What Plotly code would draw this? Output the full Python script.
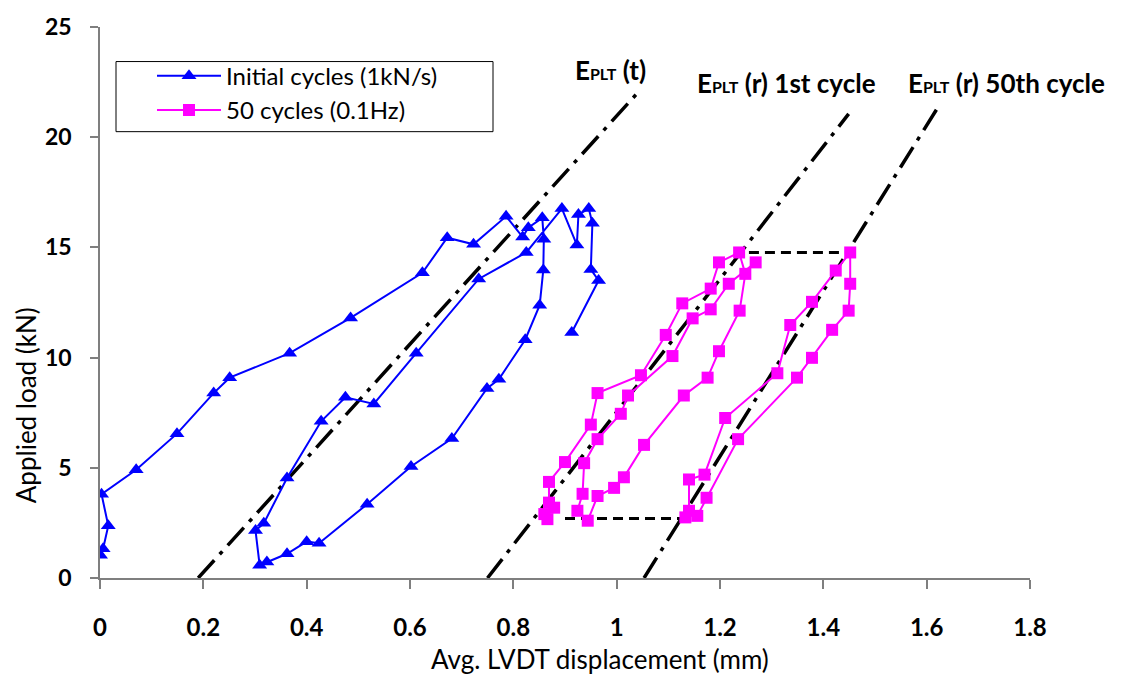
import plotly.graph_objects as go

# Initial cycles (1kN/s): displacement (mm) and load (kN)
initial_disp = [0.001, 0.006, 0.016, 0.003, 0.070, 0.149, 0.220, 0.251, 0.367, 0.485,
                0.624, 0.672, 0.723, 0.786, 0.818, 0.829, 0.856, 0.859, 0.858, 0.851,
                0.823, 0.772, 0.749, 0.681, 0.602, 0.517, 0.424, 0.400, 0.362, 0.323,
                0.309, 0.301, 0.317, 0.362, 0.428, 0.475, 0.530, 0.612, 0.733, 0.825,
                0.894, 0.923, 0.926, 0.946, 0.953, 0.950, 0.965, 0.913]
initial_load = [1.03, 1.33, 2.37, 3.80, 4.91, 6.55, 8.39, 9.09, 10.20, 11.80,
                13.85, 15.44, 15.14, 16.41, 15.47, 15.89, 16.34, 15.37, 13.98, 12.38,
                10.81, 9.02, 8.60, 6.33, 5.06, 3.35, 1.58, 1.65, 1.10, 0.73,
                0.58, 2.15, 2.48, 4.54, 7.11, 8.20, 7.90, 10.20, 13.57, 14.77,
                16.76, 15.11, 16.49, 16.76, 16.10, 14.00, 13.50, 11.14]

# 50 cycles (0.1Hz): first loop, then last loop (None separates them)
cyc_disp = [0.866, 0.860, 0.879, 0.869, 0.869, 0.900, 0.950, 0.963, 1.047, 1.095,
            1.127, 1.182, 1.198, 1.237, 1.249, 1.238, 1.198, 1.176, 1.130, 1.053,
            1.014, 0.995, 0.963, 0.944, 0.924, 0.934, 0.937, 0.963, 1.008, 1.022,
            1.108, 1.147, 1.182, 1.217, 1.269,
            None,
            1.133, 1.140, 1.140, 1.170, 1.210, 1.311, 1.336, 1.378, 1.424, 1.452,
            1.452, 1.449, 1.417, 1.378, 1.349, 1.235, 1.174, 1.156]
cyc_load = [2.67, 2.90, 3.19, 3.42, 4.36, 5.26, 6.96, 8.39, 9.20, 11.03,
            12.46, 13.13, 14.32, 14.77, 13.80, 12.13, 10.29, 9.09, 8.28, 6.04,
            4.57, 4.09, 3.72, 2.60, 3.05, 3.82, 5.21, 6.30, 7.45, 8.28,
            10.07, 11.78, 12.19, 13.35, 14.32,
            None,
            2.75, 3.05, 4.47, 4.69, 7.26, 9.29, 11.48, 12.53, 13.95, 14.77,
            13.35, 12.13, 11.26, 9.99, 9.09, 6.30, 3.64, 2.82]

# Modulus lines (start/end points)
e_t_x, e_t_y = [0.19, 1.04], [0.0, 22.0]
e_r1_x, e_r1_y = [0.75, 1.449], [0.0, 21.06]
e_r50_x, e_r50_y = [1.053, 1.623], [0.0, 21.4]

# Horizontal guides at the cycle peak / trough loads
peak_x, peak_y = [1.256, 1.452], [14.77, 14.77]
trough_x, trough_y = [0.90, 1.13], [2.70, 2.70]

labels = ["E<span style='font-size:16px'>PLT</span> (t)",
          "E<span style='font-size:16px'>PLT</span> (r) 1st cycle",
          "E<span style='font-size:16px'>PLT</span> (r) 50th cycle"]
label_x = [610, 786, 1006]
label_y = [64, 77, 77]

x_ticks = [0, 0.2, 0.4, 0.6, 0.8, 1.0, 1.2, 1.4, 1.6, 1.8]
x_tick_text = ["0", "0.2", "0.4", "0.6", "0.8", "1", "1.2", "1.4", "1.6", "1.8"]
y_ticks = [0, 5, 10, 15, 20, 25]

FONT = "Lato"
W, H = 1123, 677
L, R, T, B = 100, 93, 20, 99
PW, PH = W - L - R, H - T - B

fig = go.Figure()

dashdot = "24px,8px,4px,8px"
for xs, ys in [(e_t_x, e_t_y), (e_r1_x, e_r1_y), (e_r50_x, e_r50_y)]:
    fig.add_trace(go.Scatter(x=xs, y=ys, mode="lines", showlegend=False,
                             line=dict(color="black", width=3.5, dash=dashdot),
                             hoverinfo="skip"))
for xs, ys in [(peak_x, peak_y), (trough_x, trough_y)]:
    fig.add_trace(go.Scatter(x=xs, y=ys, mode="lines", showlegend=False,
                             line=dict(color="black", width=3, dash="10px,6px"),
                             hoverinfo="skip"))

fig.add_trace(go.Scatter(
    x=initial_disp, y=initial_load, mode="lines+markers",
    name="Initial cycles (1kN/s)",
    line=dict(color="#0000FF", width=2),
    marker=dict(symbol="triangle-up", size=13, color="#0000FF"),
))
fig.add_trace(go.Scatter(
    x=cyc_disp, y=cyc_load, mode="lines+markers",
    name="50 cycles (0.1Hz)", connectgaps=False,
    line=dict(color="#FF00FF", width=2),
    marker=dict(symbol="square", size=12, color="#FF00FF"),
))


def px(xp):
    return (xp - L) / PW


def py(yp):
    return 1 - (yp - T) / PH


for txt, xp, yp in zip(labels, label_x, label_y):
    fig.add_annotation(x=px(xp), y=py(yp), xref="paper", yref="paper",
                       text="<b>" + txt + "</b>", showarrow=False,
                       font=dict(family=FONT, size=26, color="black"),
                       xanchor="center", yanchor="middle")

# axis titles
fig.add_annotation(x=px(600), y=py(660), xref="paper", yref="paper",
                   text="Avg. LVDT displacement (mm)", showarrow=False,
                   font=dict(family=FONT, size=26, color="black"),
                   xanchor="center", yanchor="middle")
fig.add_annotation(x=px(26), y=py(403), xref="paper", yref="paper",
                   text="Applied load (kN)", showarrow=False, textangle=-90,
                   font=dict(family=FONT, size=26, color="black"),
                   xanchor="center", yanchor="middle")

# legend frame
fig.add_shape(type="rect", xref="paper", yref="paper",
              x0=px(116), x1=px(493), y0=py(126), y1=py(55),
              line=dict(color="black", width=1), fillcolor="white", layer="below")

fig.update_layout(
    width=W, height=H,
    margin=dict(l=L, r=R, t=T, b=B),
    paper_bgcolor="white", plot_bgcolor="white",
    font=dict(family=FONT, color="black"),
    legend=dict(x=px(152), y=py(47), xanchor="left", yanchor="top",
                bgcolor="rgba(0,0,0,0)", borderwidth=0,
                font=dict(family=FONT, size=24, color="black"),
                itemwidth=64, tracegroupgap=0),
    xaxis=dict(range=[0, 1.8], tickvals=x_ticks, ticktext=x_tick_text,
               showgrid=False, zeroline=False, showline=True,
               linecolor="#7f7f7f", linewidth=1.5,
               ticks="outside", ticklen=9, tickcolor="#7f7f7f", tickwidth=1.5,
               ticklabelstandoff=18,
               tickfont=dict(family=FONT, size=24, color="black", weight="bold")),
    yaxis=dict(range=[0, 25], tickvals=y_ticks,
               showgrid=False, zeroline=False, showline=True,
               linecolor="#7f7f7f", linewidth=1.5,
               ticks="outside", ticklen=8, tickcolor="#7f7f7f", tickwidth=1.5,
               ticklabelstandoff=14,
               tickfont=dict(family=FONT, size=23, color="black", weight="bold")),
)

fig.write_html("out.html")
